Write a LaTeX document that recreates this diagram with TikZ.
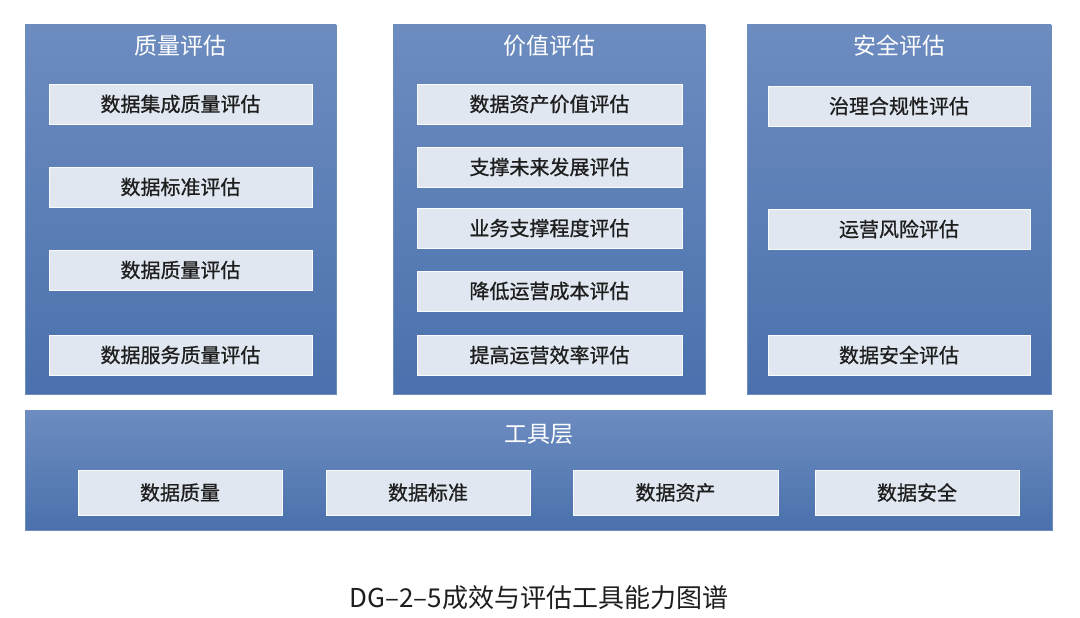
\documentclass[tikz,border=0pt]{standalone}
\usepackage{fontspec}
\newfontfamily\cjk{Noto Sans CJK SC}
\newfontfamily\cjkm[FakeBold=0.8]{Noto Sans CJK SC}
\definecolor{paneltop}{HTML}{6D8CC0}
\definecolor{panelbot}{HTML}{4A71AD}
\definecolor{boxfill}{HTML}{E0E7F0}
\definecolor{boxtext}{HTML}{1E1E1E}
\begin{document}
\begin{tikzpicture}[x=1pt,y=-1pt,
  panel/.style={top color=paneltop,bottom color=panelbot,draw=panelbot!80!white,line width=0.6pt},
  item/.style={fill=boxfill,draw=white!85!boxfill,line width=0.6pt,inner sep=0pt,font=\cjkm\fontsize{20}{24}\selectfont,text=boxtext},
  ptitle/.style={font=\cjk\fontsize{23}{27}\selectfont,text=white},
]
\useasboundingbox (0,0) rectangle (1080,618);
\fill[white] (0,0) rectangle (1080,618);
% panels
\node[panel,minimum width=311,minimum height=369,inner sep=0pt] (pq) at (180.5,209.5) {};
\node[panel,minimum width=312,minimum height=369,inner sep=0pt] (pv) at (549,209.5) {};
\node[panel,minimum width=304,minimum height=369,inner sep=0pt] (ps) at (899,209.5) {};
\node[panel,minimum width=1027,minimum height=120,inner sep=0pt] (pt) at (538.5,470) {};
% titles
\node[ptitle] (tq) at (180.5,46) {质量评估};
\node[ptitle] (tv) at (549,46) {价值评估};
\node[ptitle] (ts) at (899,46) {安全评估};
\node[ptitle] (tt) at (538.5,434) {工具层};
% quality items
\node[item,minimum width=263,minimum height=40] (q1) at (180.5,104) {数据集成质量评估};
\node[item,minimum width=263,minimum height=40] (q2) at (180.5,187) {数据标准评估};
\node[item,minimum width=263,minimum height=40] (q3) at (180.5,270) {数据质量评估};
\node[item,minimum width=263,minimum height=40] (q4) at (180.5,355) {数据服务质量评估};
% value items
\node[item,minimum width=265,minimum height=40] (v1) at (549.5,104) {数据资产价值评估};
\node[item,minimum width=265,minimum height=40] (v2) at (549.5,167) {支撑未来发展评估};
\node[item,minimum width=265,minimum height=40] (v3) at (549.5,228) {业务支撑程度评估};
\node[item,minimum width=265,minimum height=40] (v4) at (549.5,291) {降低运营成本评估};
\node[item,minimum width=265,minimum height=40] (v5) at (549.5,355) {提高运营效率评估};
% security items
\node[item,minimum width=262,minimum height=40] (s1) at (899,106) {治理合规性评估};
\node[item,minimum width=262,minimum height=40] (s2) at (899,229) {运营风险评估};
\node[item,minimum width=262,minimum height=40] (s3) at (899,355) {数据安全评估};
% tool items
\node[item,minimum width=204,minimum height=45] (t1) at (180,492.5) {数据质量};
\node[item,minimum width=204,minimum height=45] (t2) at (428,492.5) {数据标准};
\node[item,minimum width=205,minimum height=45] (t3) at (675.5,492.5) {数据资产};
\node[item,minimum width=204,minimum height=45] (t4) at (917,492.5) {数据安全};
% caption
\node[font=\cjk\fontsize{26}{30}\selectfont,text=boxtext] (cap) at (539,598) {DG–2–5成效与评估工具能力图谱};
\end{tikzpicture}
\end{document}
